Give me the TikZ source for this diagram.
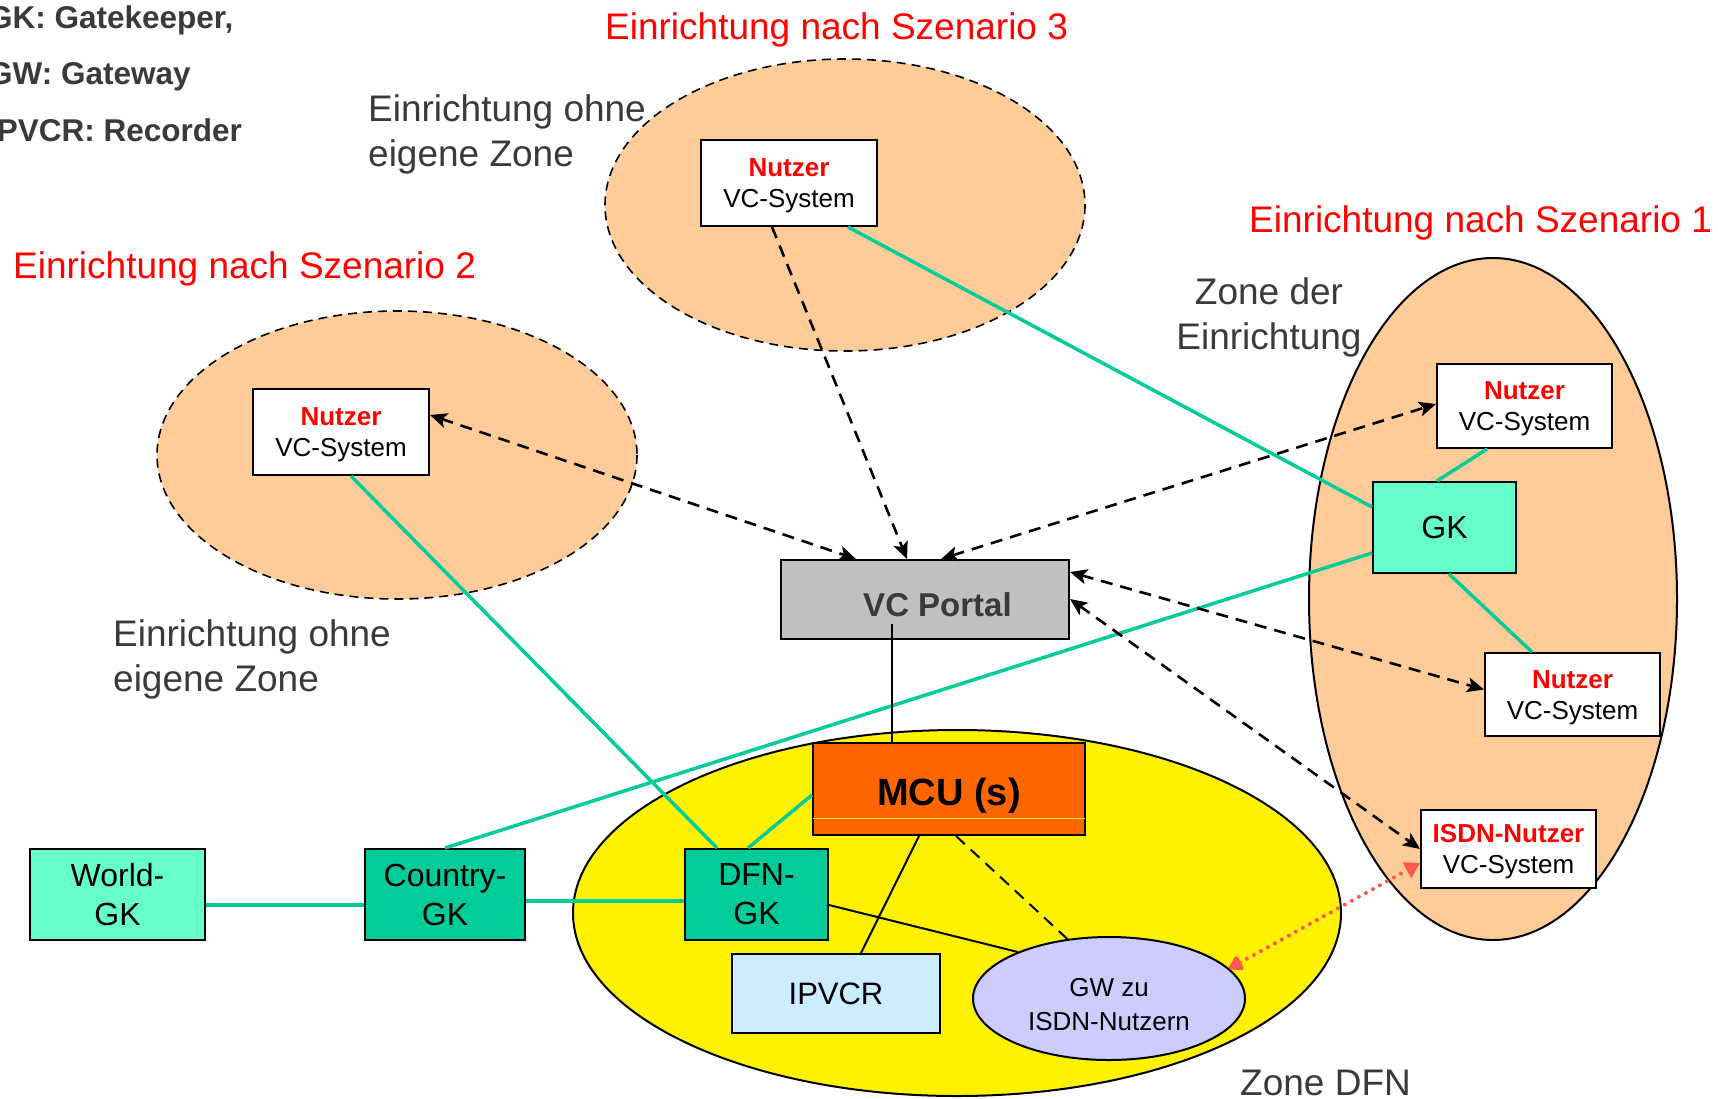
\documentclass[tikz,border=0pt]{standalone}
\usepackage{fontspec}
\setmainfont{Liberation Sans}
\usetikzlibrary{arrows.meta,shapes.geometric,calc}
\definecolor{peach}{HTML}{FFCC99}
\definecolor{tealline}{HTML}{00CC99}
\definecolor{aqua}{HTML}{66FFCC}
\definecolor{teal2}{HTML}{00CC99}
\definecolor{ipv}{HTML}{CCECFF}
\definecolor{gwc}{HTML}{CCCCFF}
\definecolor{mcuc}{HTML}{FF6600}
\definecolor{portc}{HTML}{C0C0C0}
\definecolor{txtgray}{HTML}{3A3A3A}
\definecolor{redarr}{HTML}{FF5555}
\newcommand{\nstrut}{\rule{0pt}{24pt}}
\begin{document}
\begin{tikzpicture}[x=1pt,y=-1pt,
  box/.style={draw=black, line width=2pt, inner sep=0pt, align=center},
  nutzer/.style={box, fill=white, minimum width=176pt, minimum height=86pt, font=\fontsize{26}{31}\selectfont},
  gkbox/.style={box, minimum height=91pt, font=\fontsize{32}{39}\selectfont},
  title/.style={anchor=base west, inner sep=0pt, text=red, font=\fontsize{37}{45}\selectfont},
  note/.style={inner sep=0pt, text=txtgray, font=\fontsize{37}{45}\selectfont},
  legend/.style={anchor=base west, inner sep=0pt, text=txtgray, font=\fontsize{31.5}{38}\bfseries\selectfont},
  tline/.style={draw=tealline, line width=3.5pt},
  thinl/.style={draw=black, line width=2pt},
  darr/.style={draw=black, line width=2.6pt, dash pattern=on 12pt off 8pt},
  zoneb/.style={draw=black, line width=1.6pt, dash pattern=on 9pt off 6pt, fill=peach}
]
\useasboundingbox (0,0) rectangle (1718,1098);
\fill[white] (0,0) rectangle (1718,1098);

% zones
\draw[zoneb] (845,205) ellipse [x radius=240, y radius=146];
\draw[zoneb] (397,455) ellipse [x radius=240, y radius=144];
\draw[fill=peach, draw=black, line width=2pt] (1493,599) ellipse [x radius=184, y radius=341];
\draw[fill=yellow, draw=black, line width=2pt] (957,913) ellipse [x radius=384, y radius=183];

% legend
\node[legend] (lg1) at (-12,28) {GK: Gatekeeper,};
\node[legend] (lg2) at (-12,84) {GW: Gateway};
\node[legend] (lg3) at (-12,141) {IPVCR: Recorder};

% titles
\node[title] (t3) at (605,39) {Einrichtung nach Szenario 3};
\node[title] (t1) at (1249,232) {Einrichtung nach Szenario 1};
\node[title] (t2) at (13,278) {Einrichtung nach Szenario 2};

% notes
\node[note, anchor=base west] (na1) at (368,121) {Einrichtung ohne};
\node[note, anchor=base west] (na2) at (368,166) {eigene Zone};
\node[note, anchor=base west] (nb1) at (113,646) {Einrichtung ohne};
\node[note, anchor=base west] (nb2) at (113,691) {eigene Zone};
\node[note, anchor=base] (nc1) at (1269,304) {Zone der};
\node[note, anchor=base] (nc2) at (1269,349) {Einrichtung};
\node[note, anchor=base west] (nd) at (1240,1095) {Zone DFN};

% boxes
\node[nutzer] (nTop) at (789,183) {\nstrut\textbf{\textcolor{red}{Nutzer}}\\VC-System};
\node[nutzer] (nLeft) at (341,432) {\nstrut\textbf{\textcolor{red}{Nutzer}}\\VC-System};
\node[nutzer, minimum width=175pt, minimum height=84pt] (nR1) at (1524.5,406) {\nstrut\textbf{\textcolor{red}{Nutzer}}\\VC-System};
\node[nutzer, minimum width=175pt, minimum height=83pt] (nR2) at (1572.5,694.5) {\nstrut\textbf{\textcolor{red}{Nutzer}}\\VC-System};
\node[nutzer, minimum width=175pt, minimum height=78pt] (nISDN) at (1508.5,849) {\nstrut\textbf{\textcolor{red}{ISDN-Nutzer}}\\VC-System};

\node[gkbox, fill=aqua, minimum width=143pt] (GK) at (1444.5,527.5) {GK};
\node[gkbox, fill=aqua, minimum width=175pt] (World) at (117.5,894.5) {World-\\GK};
\node[gkbox, fill=teal2, minimum width=160pt] (Country) at (445,894.5) {Country-\\GK};
\node[gkbox, fill=teal2, minimum width=143pt] (DFN) at (756.5,894.5) {DFN-\\GK};

\node[box, fill=ipv, minimum width=208pt, minimum height=79pt, font=\fontsize{31}{38}\selectfont] (IPVCR) at (836,993.5) {IPVCR};
\node[ellipse, draw=black, line width=2pt, fill=gwc, inner sep=0pt, minimum width=272pt, minimum height=123pt, align=center, font=\fontsize{26}{34}\selectfont] (GW) at (1109,998.5) {\rule{0pt}{30pt}GW zu\\ISDN-Nutzern};

\node[box, fill=portc, minimum width=288pt, minimum height=79pt] (portal) at (925,599.5) {};
\node[inner sep=0pt, text=txtgray, font=\fontsize{33}{40}\bfseries\selectfont] (portaltxt) at ([xshift=12.5pt, yshift=-5.5pt]portal.center) {VC Portal};

\node[box, fill=mcuc, minimum width=272pt, minimum height=92pt, text height=32pt, text depth=0pt, font=\fontsize{38}{46}\bfseries\selectfont] (mcu) at (949,789) {MCU (s)};
\draw[draw=yellow, line width=1pt] ([xshift=1pt, yshift=18pt]mcu.south west) -- ([xshift=-1pt, yshift=18pt]mcu.south east);

% teal connections
\draw[tline] ([xshift=148pt]nTop.south west) -- ([yshift=-26pt]GK.north west);
\draw[tline] ([yshift=-72pt]GK.north west) -- (Country.north);
\draw[tline] ([xshift=65pt]GK.north west) -- ([xshift=51pt]nR1.south west);
\draw[tline] ([xshift=77pt]GK.south west) -- ([xshift=48pt]nR2.north west);
\draw[tline] ([xshift=99pt]nLeft.south west) -- ([xshift=33pt]DFN.north west);
\draw[tline] ([xshift=64pt]DFN.north west) -- ([yshift=-53pt]mcu.north west);
\draw[tline] ([yshift=-10.5pt]World.east) -- ([yshift=-10.5pt]Country.west);
\draw[tline] ([yshift=-6.5pt]Country.east) -- ([yshift=-6.5pt]DFN.west);

% black thin connections
\coordinate (pl) at ([xshift=112pt, yshift=-65pt]portal.north west);
\draw[thinl] (pl) -- (pl |- mcu.north);
\draw[thinl] ([xshift=107pt]mcu.south west) -- ([xshift=130pt]IPVCR.north west);
\draw[thinl] ([yshift=-57pt]DFN.north east) -- (GW.153);
\draw[thinl, dash pattern=on 12pt off 8pt] ([xshift=144pt]mcu.south west) -- (GW.125);

% dashed arrows
\draw[darr, {Stealth[length=17pt,width=15pt,inset=4pt]}-{Stealth[length=17pt,width=15pt,inset=4pt]}] ([yshift=-27pt]nLeft.north east) -- ([xshift=76pt]portal.north west);
\draw[darr, -{Stealth[length=17pt,width=15pt,inset=4pt]}] ([xshift=72pt]nTop.south west) -- ([xshift=127pt]portal.north west);
\draw[darr, {Stealth[length=17pt,width=15pt,inset=4pt]}-{Stealth[length=17pt,width=15pt,inset=4pt]}] ([xshift=161pt]portal.north west) -- ([yshift=2pt]nR1.west);
\draw[darr, {Stealth[length=17pt,width=15pt,inset=4pt]}-{Stealth[length=17pt,width=15pt,inset=4pt]}] ([yshift=-13pt]portal.north east) -- ([yshift=5pt]nR2.west);
\draw[darr, {Stealth[length=17pt,width=15pt,inset=4pt]}-{Stealth[length=17pt,width=15pt,inset=4pt]}] ([yshift=-40pt]portal.north east) -- (nISDN.west);

% red dotted
\draw[draw=redarr, line width=4pt, line cap=round, dash pattern=on 0pt off 8pt, {Triangle[length=15pt,width=17pt,round=false,fill=redarr]}-{Triangle[length=15pt,width=17pt,fill=redarr]}] (GW.14) -- ([yshift=-14pt]nISDN.west);
\end{tikzpicture}
\end{document}
